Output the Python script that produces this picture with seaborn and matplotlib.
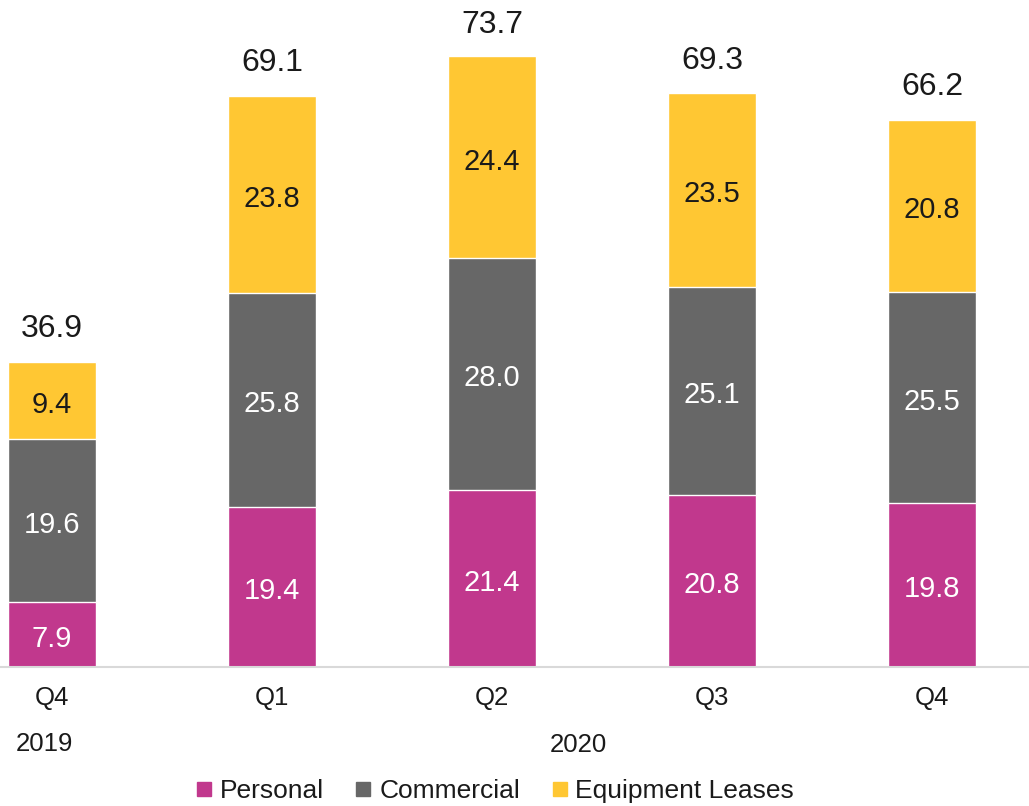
import matplotlib
matplotlib.use("Agg")
import matplotlib.pyplot as plt
from matplotlib.lines import Line2D
import numpy as np
import pandas as pd
import seaborn as sns

# Quarterly balances by product line
periods = ["2019 Q4", "2020 Q1", "2020 Q2", "2020 Q3", "2020 Q4"]
quarters = ["Q4", "Q1", "Q2", "Q3", "Q4"]
personal = [7.9, 19.4, 21.4, 20.8, 19.8]
commercial = [19.6, 25.8, 28.0, 25.1, 25.5]
equipment = [9.4, 23.8, 24.4, 23.5, 20.8]
totals = [36.9, 69.1, 73.7, 69.3, 66.2]
series_names = ["Personal", "Commercial", "Equipment Leases"]

colors = {"Personal": "#C1388D", "Commercial": "#676767", "Equipment Leases": "#FFC733"}
text_colors = {"Personal": "white", "Commercial": "white", "Equipment Leases": "#1a1a1a"}

sns.set_theme(style="white")
plt.rcParams["font.family"] = ["Liberation Sans", "DejaVu Sans"]

df = pd.DataFrame({
    "period": periods,
    "Personal": personal,
    "Commercial": commercial,
    "Equipment Leases": equipment,
})
df["p_top"] = df["Personal"]
df["c_top"] = df["Personal"] + df["Commercial"]
df["e_top"] = df["c_top"] + df["Equipment Leases"]

fig = plt.figure(figsize=(10.29, 8.06), dpi=100)
ax = fig.add_axes([0.0, 139 / 806, 1.0, 667 / 806])

# Draw cumulative heights from the top layer down so each stack shows its segments
for top_col, name in [("e_top", "Equipment Leases"), ("c_top", "Commercial"), ("p_top", "Personal")]:
    sns.barplot(data=df, x="period", y=top_col, order=periods, color=colors[name],
                width=0.4, edgecolor="white", linewidth=1.0, saturation=1.0, ax=ax)

# Segment labels and stack totals
for i in range(len(periods)):
    bottom = 0.0
    for name in series_names:
        v = df.loc[i, name]
        ax.annotate(f"{v:.1f}", xy=(i, bottom + v / 2), xytext=(0, -8.8),
                    textcoords="offset points", ha="center", va="baseline",
                    fontsize=21, color=text_colors[name])
        bottom += v
    ax.annotate(f"{totals[i]:.1f}", xy=(i, totals[i]), xytext=(0, 17.5),
                textcoords="offset points", ha="center", va="baseline",
                fontsize=23, color="#1a1a1a")

ax.set_xlim(-52 / 220, (1029 - 52) / 220)
ax.set_ylim(0, 667 / 8.273)
ax.set_xlabel("")
ax.set_ylabel("")
ax.set_yticks([])
ax.set_xticks(range(len(periods)))
ax.set_xticklabels(quarters, fontsize=18.5, color="#1a1a1a")
ax.tick_params(axis="x", length=0, pad=14)
for side in ["left", "right", "top"]:
    ax.spines[side].set_visible(False)
ax.spines["bottom"].set_color("#D9D9D9")
ax.spines["bottom"].set_linewidth(1.5)
ax.set_facecolor("white")

# Year labels under the quarter ticks
fig.text(44 / 1029, 1 - 744 / 806, "2019", ha="center", va="center", fontsize=18.5, color="#1a1a1a")
fig.text(578 / 1029, 1 - 745 / 806, "2020", ha="center", va="center", fontsize=18.5, color="#1a1a1a")

handles = [Line2D([0], [0], marker="s", linestyle="none", markersize=10,
                  markerfacecolor=colors[n], markeredgecolor=colors[n]) for n in series_names]
fig.legend(handles, series_names, loc="center", bbox_to_anchor=(495 / 1029, 1 - 791 / 806),
           ncol=3, frameon=False, fontsize=19, handlelength=0.6, handletextpad=0.3,
           columnspacing=1.2, borderaxespad=0, labelcolor="#1a1a1a")

fig.savefig("out.png", dpi=100, facecolor="white")
